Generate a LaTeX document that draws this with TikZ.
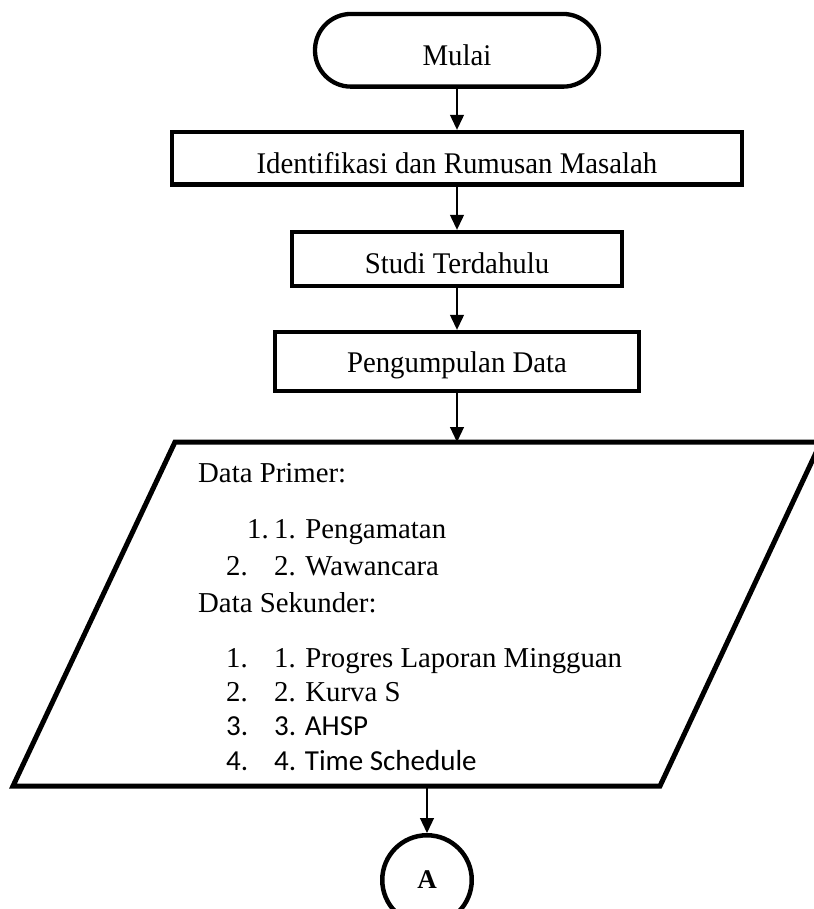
\documentclass[tikz,border=0pt]{standalone}
\usepackage{fontspec}
\setmainfont{Liberation Serif}
\newfontfamily\boxfont{Liberation Serif}[FakeStretch=0.96]
\newfontfamily\calibrifont{Carlito}
\usetikzlibrary{arrows.meta,positioning,calc}
\tikzset{
    terminal/.style = {rectangle,
                    rounded corners=36pt,
                    fill=white,
                    draw=black,
                    text=black,
                    line width=4.3pt,
                    minimum width=284pt,
                    minimum height=72.7pt,
                    text height=30pt,
                    text depth=0pt,
                    font=\fontsize{30}{36}\boxfont},
    process/.style = {rectangle,
                    fill=white,
                    draw=black,
                    text=black,
                    line width=4.3pt,
                    text height=30pt,
                    text depth=0pt,
                    font=\fontsize{30}{36}\boxfont},
    connector/.style = {circle,
                    fill=white,
                    draw=black,
                    text=black,
                    line width=4.5pt,
                    inner sep=0pt,
                    minimum size=89.5pt,
                    font=\fontsize{27}{32}\selectfont\bfseries},
    -,
    iotext/.style = {anchor=base west,
                    inner sep=0pt,
                    font=\fontsize{28.8}{34}\selectfont},
    iosans/.style = {anchor=base west,
                    inner sep=0pt,
                    font=\fontsize{29}{34}\calibrifont},
    -,
    flow/.style = {line width=1.2pt,
                    -{Triangle[length=15pt,width=14pt]}}}

\begin{document}
\begin{tikzpicture}[x=1pt,y=-1pt]
                \useasboundingbox (0,0) rectangle (813,909);
                % start and process steps
                \node[terminal] (mulai) at (457,50.3) {Mulai};
                \node[process,minimum width=570pt,minimum height=52.7pt] (identifikasi) [below=41pt of mulai] {Identifikasi dan Rumusan Masalah};
                \node[process,minimum width=329.7pt,minimum height=53.7pt] (studi) [below=43pt of identifikasi] {Studi Terdahulu};
                \node[process,minimum width=363.7pt,minimum height=58.7pt,text height=26pt,text depth=4pt] (pengumpulan) [below=42pt of studi] {Pengumpulan Data};

                % data input
                \coordinate (para-tl) at (175,442);
                \coordinate (para-tr) at (821,442);
                \coordinate (para-br) at (660,786);
                \coordinate (para-bl) at (13,786);
                \draw[line width=5pt,line join=miter] (para-tl) -- (para-tr) -- (para-br) -- (para-bl) -- cycle;

                \node[iotext] (primer)     at (198,482) {Data Primer:};
                \node[iotext] (primer-n1)  at (247,538) {1.};
                \node[iotext] (primer-t1)  at (274,538) {1. Pengamatan};
                \node[iotext] (primer-n2)  at (226,575) {2.};
                \node[iotext] (primer-t2)  at (274,575) {2. Wawancara};
                \node[iotext] (sekunder)   at (198,612) {Data Sekunder:};
                \node[iotext] (sekunder-n1) at (226,667) {1.};
                \node[iotext] (sekunder-t1) at (274,667) {1. Progres Laporan Mingguan};
                \node[iotext] (sekunder-n2) at (226,701) {2.};
                \node[iotext] (sekunder-t2) at (274,701) {2. Kurva S};
                \node[iosans] (sekunder-n3) at (226,735) {3.};
                \node[iosans] (sekunder-t3) at (274,735) {3. AHSP};
                \node[iosans] (sekunder-n4) at (226,770) {4.};
                \node[iosans] (sekunder-t4) at (274,770) {4. Time Schedule};

                % off-page connector
                \node[connector] (a) at (427,880) {A};

                \coordinate (paratop) at (pengumpulan.south |- para-tl);
                \coordinate (parabot) at (a.north |- para-bl);
                \path [flow]  (mulai) edge (identifikasi)
                              (identifikasi) edge (studi)
                              (studi) edge (pengumpulan)
                              (pengumpulan) edge (paratop)
                              (parabot) edge (a);
        \end{tikzpicture}
\end{document}
